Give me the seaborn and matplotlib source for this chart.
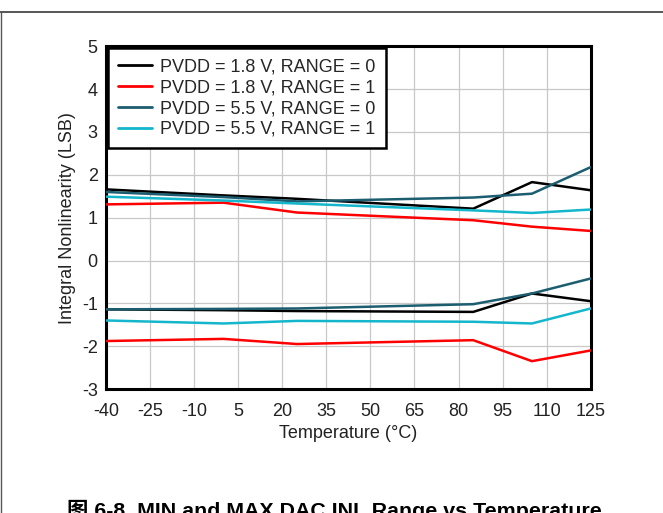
import matplotlib
matplotlib.use("Agg")
import matplotlib.pyplot as plt
from matplotlib.lines import Line2D
import numpy as np
import pandas as pd
import seaborn as sns

# Temperature sweep points (°C)
temps = [-40, 0, 25, 85, 105, 125]

# INL extremes (LSB) for each supply / range combination
pv18_r0_max = [1.66, 1.52, 1.44, 1.21, 1.83, 1.64]
pv18_r0_min = [-1.14, -1.16, -1.18, -1.20, -0.77, -0.95]
pv18_r1_max = [1.31, 1.35, 1.12, 0.94, 0.79, 0.69]
pv18_r1_min = [-1.88, -1.83, -1.95, -1.86, -2.35, -2.10]
pv55_r0_max = [1.60, 1.48, 1.38, 1.47, 1.56, 2.18]
pv55_r0_min = [-1.14, -1.13, -1.12, -1.02, -0.77, -0.42]
pv55_r1_max = [1.49, 1.40, 1.33, 1.17, 1.11, 1.19]
pv55_r1_min = [-1.40, -1.47, -1.41, -1.43, -1.47, -1.12]

series_labels = [
    "PVDD = 1.8 V, RANGE = 0",
    "PVDD = 1.8 V, RANGE = 1",
    "PVDD = 5.5 V, RANGE = 0",
    "PVDD = 5.5 V, RANGE = 1",
]
series_colors = ["#000000", "#ff0000", "#1c5d6f", "#14b6cb"]

x_ticks = [-40, -25, -10, 5, 20, 35, 50, 65, 80, 95, 110, 125]
y_ticks = [-3, -2, -1, 0, 1, 2, 3, 4, 5]

curves = {
    (series_labels[0], "max"): pv18_r0_max,
    (series_labels[0], "min"): pv18_r0_min,
    (series_labels[1], "max"): pv18_r1_max,
    (series_labels[1], "min"): pv18_r1_min,
    (series_labels[2], "max"): pv55_r0_max,
    (series_labels[2], "min"): pv55_r0_min,
    (series_labels[3], "max"): pv55_r1_max,
    (series_labels[3], "min"): pv55_r1_min,
}
rows = []
for (label, bound), vals in curves.items():
    for t, v in zip(temps, vals):
        rows.append({"Temperature": t, "INL": v, "Series": label, "Bound": bound})
df = pd.DataFrame(rows)

sns.set_style("white")
plt.rcParams["font.family"] = ["Liberation Sans", "Noto Sans CJK SC", "DejaVu Sans"]

FS = 13

fig = plt.figure(figsize=(6.63, 5.13), dpi=100)
ax = fig.add_axes([0.160, 0.2417, 0.731, 0.668])

sns.lineplot(
    data=df, x="Temperature", y="INL", hue="Series", units="Bound",
    estimator=None, hue_order=series_labels, palette=series_colors,
    linewidth=1.8, ax=ax, zorder=3,
)

ax.set_xlim(-40, 125)
ax.set_ylim(-3, 5)
ax.set_xticks(x_ticks)
ax.set_yticks(y_ticks)
ax.set_xticklabels([str(t) for t in x_ticks])
ax.set_yticklabels([str(t) for t in y_ticks])
ax.tick_params(axis="both", labelsize=FS, colors="#222222", length=0)
ax.tick_params(axis="x", pad=10)
ax.tick_params(axis="y", pad=6)
ax.grid(True, color="#c8c8c8", linewidth=0.9)
ax.set_axisbelow(True)
for sp in ax.spines.values():
    sp.set_color("black")
    sp.set_linewidth(2.2)
    sp.set_visible(True)

ax.set_xlabel("Temperature (°C)", fontsize=FS, color="#222222", labelpad=4)
ax.set_ylabel("Integral Nonlinearity (LSB)", fontsize=FS, color="#222222", labelpad=4)

leg = ax.legend(
    loc="upper left", bbox_to_anchor=(0.0, 1.0), fontsize=FS, frameon=True,
    fancybox=False, borderpad=0.55, handlelength=1.9, handletextpad=0.45,
    labelspacing=0.22, borderaxespad=0.1,
)
leg.get_frame().set_edgecolor("black")
leg.get_frame().set_linewidth(1.8)
leg.get_frame().set_alpha(1)
for h in leg.get_lines():
    h.set_linewidth(2.0)

# page frame lines
fig.add_artist(Line2D([0, 1], [1 - 12 / 513, 1 - 12 / 513], transform=fig.transFigure,
                      color="#555555", linewidth=1.4))
fig.add_artist(Line2D([1 / 663, 1 / 663], [0, 1 - 12 / 513], transform=fig.transFigure,
                      color="#555555", linewidth=1.0))

fig.text(67 / 663, -0.007, "图 6-8. MIN and MAX DAC INL Range vs Temperature",
         fontsize=15.4, fontweight="bold", ha="left", va="baseline", color="black")

fig.savefig("out.png", dpi=100)
